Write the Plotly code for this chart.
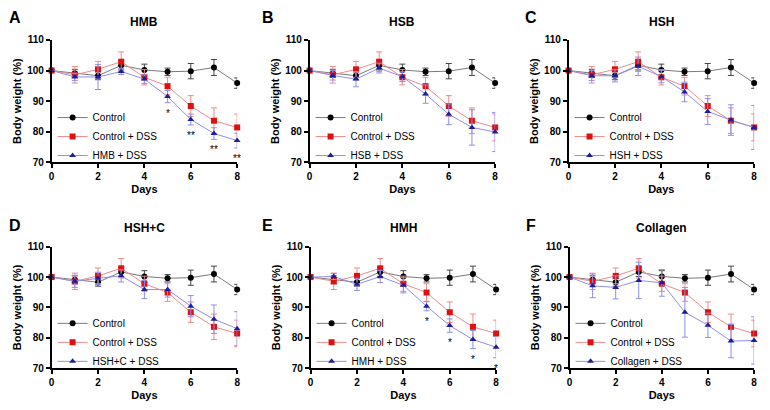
import plotly.graph_objects as go

# ---------------- data ----------------
days = [0, 1, 2, 3, 4, 5, 6, 7, 8]

control = [100, 99.1, 98.3, 101.7, 100.2, 99.6, 99.8, 101.0, 95.9]
control_err = [0, 1.3, 1.3, 1.5, 1.9, 1.2, 2.5, 2.6, 1.7]

control_dss = [100, 98.6, 100.4, 102.9, 97.8, 94.9, 88.4, 83.6, 81.4]
control_dss_err = [0, 2.7, 2.6, 3.2, 2.5, 2.9, 3.4, 4.2, 4.4]

hmb_dss = [100, 97.9, 97.9, 99.7, 97.2, 91.5, 84.0, 79.4, 77.1]
hmb_dss_err = [0, 1.2, 4.1, 1.0, 1.4, 2.0, 1.8, 1.9, 2.4]

hsb_dss = [100, 98.4, 97.2, 100.8, 98.0, 92.3, 85.7, 81.4, 79.9]
hsb_dss_err = [0, 1.5, 2.5, 1.6, 1.6, 3.0, 3.4, 5.8, 6.4]

hsh_dss = [100, 98.3, 98.3, 101.4, 98.0, 93.0, 86.6, 83.8, 81.4]
hsh_dss_err = [0, 1.6, 2.0, 3.0, 2.0, 3.2, 4.2, 5.0, 7.2]

hshc_dss = [100, 98.6, 99.6, 100.4, 95.9, 95.9, 90.4, 86.1, 83.0]
hshc_dss_err = [0, 2.0, 2.0, 2.0, 3.0, 2.5, 3.5, 4.7, 5.6]

hmh_dss = [100, 100.2, 97.6, 100.2, 97.3, 90.4, 84.0, 79.4, 76.9]
hmh_dss_err = [0, 1.0, 2.0, 2.0, 2.5, 1.5, 2.2, 3.0, 3.5]

collagen_dss = [100, 97.1, 96.6, 98.9, 98.1, 88.4, 84.1, 78.9, 79.1]
collagen_dss_err = [0, 3.9, 3.8, 6.0, 4.4, 8.2, 4.0, 5.5, 7.8]

panel_letters = ["A", "B", "C", "D", "E", "F"]
panel_titles = ["HMB", "HSB", "HSH", "HSH+C", "HMH", "Collagen"]
treat_names = ["HMB + DSS", "HSB + DSS", "HSH + DSS", "HSH+C + DSS", "HMH + DSS", "Collagen + DSS"]
treat_values = [hmb_dss, hsb_dss, hsh_dss, hshc_dss, hmh_dss, collagen_dss]
treat_errs = [hmb_dss_err, hsb_dss_err, hsh_dss_err, hshc_dss_err, hmh_dss_err, collagen_dss_err]

# significance marks: panel index -> (days, labels)
sig_marks = {
    0: ([5, 6, 7, 8], ["*", "**", "**", "**"]),
    4: ([5, 6, 7, 8], ["*", "*", "*", "*"]),
}

x_ticks = [0, 2, 4, 6, 8]
y_ticks = [70, 80, 90, 100, 110]

# ---------------- layout geometry (pixels) ----------------
W, H = 770, 410
# (left, right, top, bottom) pixels of each plot area
boxes = [
    (49, 236, 35, 161), (309, 496, 35, 161), (570, 757, 35, 161),
    (49, 236, 248, 373), (310, 497, 248, 373), (571, 757, 248, 373),
]
letter_pos = [(12, 12), (267, 12), (532, 12), (12, 226), (267, 226), (532, 226)]

FONT = "Liberation Sans"
BLACK = "#000000"
RED_M, RED_L = "#dd1111", "#f08a8a"
BLUE_M, BLUE_L = "#1e1e9a", "#8f8fe8"
GRAY_L = "#7a7a7a"

fig = go.Figure()
annotations = []

def px_x(p):
    return p / W

def px_y(p):
    return 1 - p / H

for i in range(6):
    n = "" if i == 0 else str(i + 1)
    xa, ya = "x" + n, "y" + n
    leg = "legend" + n
    series = [
        ("Control", control, control_err, "circle", BLACK, GRAY_L, "#444444"),
        ("Control + DSS", control_dss, control_dss_err, "square", RED_M, RED_L, RED_L),
        (treat_names[i], treat_values[i], treat_errs[i], "triangle-up", BLUE_M, BLUE_L, BLUE_L),
    ]
    for name, vals, errs, sym, mcol, lcol, ecol in series:
        fig.add_trace(go.Scatter(
            x=days, y=vals, name=name, mode="lines+markers",
            xaxis=xa, yaxis=ya, legend=leg, cliponaxis=False,
            line=dict(color=lcol, width=1),
            marker=dict(symbol=sym, color=mcol, size=6),
            error_y=dict(type="data", array=errs, visible=True, color=ecol,
                         thickness=1, width=3),
        ))
    l, r, t, b = boxes[i]
    axis_common = dict(showline=True, linecolor=BLACK, linewidth=1.5,
                       ticks="outside", ticklen=4, tickwidth=1.5, tickcolor=BLACK,
                       showgrid=False, zeroline=False,
                       tickfont=dict(family=FONT, size=10, color=BLACK, weight="bold"))
    fig.update_layout(**{
        ("xaxis" + n): dict(domain=[px_x(l), px_x(r)], anchor=ya, range=[0, 8],
                            tickvals=x_ticks, **axis_common,
                            title=dict(text="Days", standoff=4,
                                       font=dict(family=FONT, size=11, color=BLACK, weight="bold"))),
        ("yaxis" + n): dict(domain=[px_y(b), px_y(t)], anchor=xa, range=[70, 110],
                            tickvals=y_ticks, **axis_common,
                            title=dict(text="Body weight (%)", standoff=3,
                                       font=dict(family=FONT, size=11, color=BLACK, weight="bold"))),
        leg: dict(x=px_x(l + 1), y=px_y(b + 8), xanchor="left", yanchor="bottom",
                  bgcolor="rgba(0,0,0,0)", tracegroupgap=0,
                  font=dict(family=FONT, size=10, color=BLACK)),
    })
    # panel title
    annotations.append(dict(text=panel_titles[i], xref="paper", yref="paper",
                            x=px_x((l + r) / 2), y=px_y(t - 19), xanchor="center", yanchor="middle",
                            showarrow=False,
                            font=dict(family=FONT, size=12, color=BLACK, weight="bold")))
    # panel letter
    lx, ly = letter_pos[i]
    annotations.append(dict(text=panel_letters[i], xref="paper", yref="paper",
                            x=px_x(lx), y=px_y(ly), xanchor="center", yanchor="middle",
                            showarrow=False,
                            font=dict(family=FONT, size=16, color=BLACK, weight="bold")))
    if i in sig_marks:
        sd, sl = sig_marks[i]
        for d, lab in zip(sd, sl):
            annotations.append(dict(text=lab, xref=xa, yref=ya, x=d,
                                    y=treat_values[i][d] - treat_errs[i][d],
                                    yanchor="top", yshift=-3, showarrow=False,
                                    font=dict(family=FONT, size=10, color=BLACK)))

fig.update_layout(width=W, height=H, margin=dict(l=0, r=0, t=0, b=0),
                  paper_bgcolor="white", plot_bgcolor="white",
                  annotations=annotations)

fig.write_html("out.html", config={"displayModeBar": False},
               post_script="document.body.style.margin='0';document.body.style.overflow='hidden';")
